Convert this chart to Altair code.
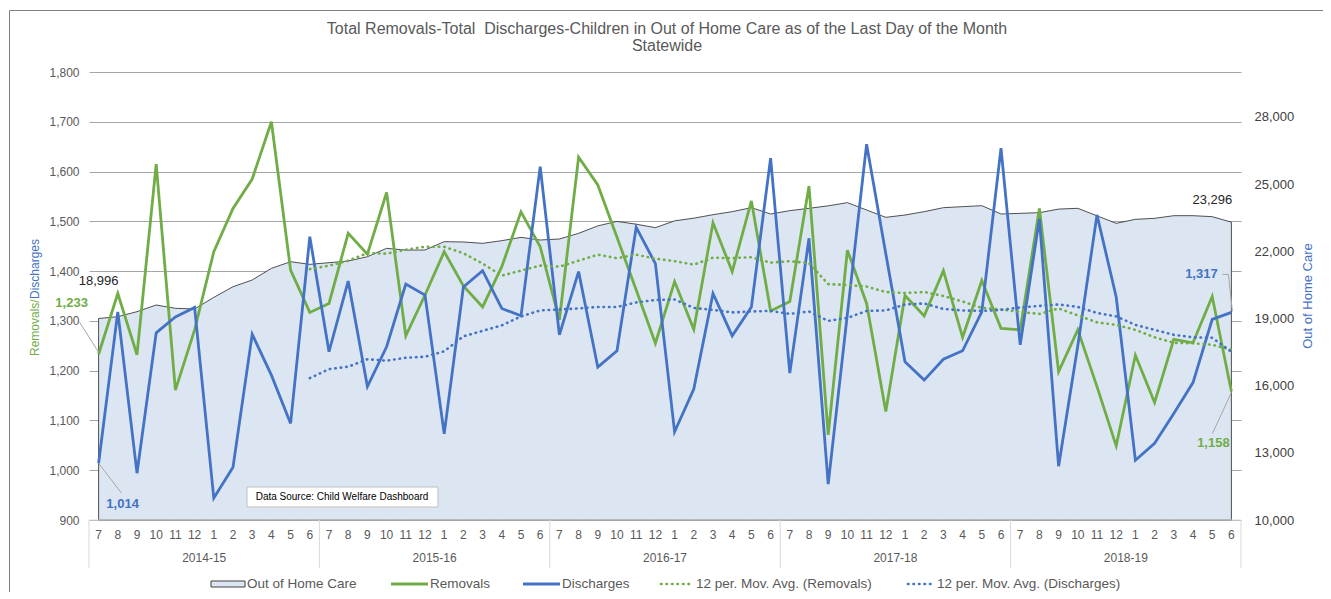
import altair as alt
import pandas as pd

FONT = "Liberation Sans"
GREEN = "#70AD47"
BLUE = "#4472C4"
AREA_FILL = "#DCE6F2"
GREY_TXT = "#595959"

month_labels = ["7", "8", "9", "10", "11", "12", "1", "2", "3", "4", "5", "6"]
fiscal_years = ["2014-15", "2015-16", "2016-17", "2017-18", "2018-19"]

removals = [1233, 1355, 1232, 1615, 1161, 1282, 1439, 1526, 1585, 1700, 1402, 1317,
            1335, 1476, 1434, 1558, 1270, 1352, 1439, 1370, 1328, 1409, 1519, 1449,
            1302, 1629, 1573, 1468, 1362, 1255, 1379, 1283, 1497, 1399, 1541, 1320,
            1339, 1571, 1071, 1442, 1335, 1118, 1351, 1310, 1401, 1267, 1381, 1285,
            1282, 1526, 1198, 1282, 1168, 1049, 1231, 1136, 1263, 1256, 1349, 1158]

discharges = [1014, 1318, 994, 1276, 1308, 1327, 944, 1006, 1273, 1191, 1094, 1469,
              1238, 1380, 1168, 1248, 1374, 1352, 1073, 1368, 1401, 1325, 1310, 1610,
              1272, 1399, 1207, 1240, 1488, 1415, 1077, 1163, 1355, 1270, 1328, 1627,
              1195, 1466, 972, 1314, 1655, 1435, 1218, 1181, 1223, 1240, 1318, 1647,
              1252, 1505, 1008, 1250, 1513, 1348, 1020, 1054, 1114, 1176, 1303, 1317]

out_of_home_care = [18996, 19077, 19300, 19598, 19450, 19420, 19940, 20415, 20714, 21235, 21530, 21413,
                    21487, 21562, 21755, 22128, 22050, 22054, 22426, 22411, 22351, 22470, 22619, 22500,
                    22545, 22798, 23130, 23330, 23205, 23051, 23355, 23475, 23630, 23765, 23943, 23661,
                    23810, 23914, 24025, 24167, 23839, 23512, 23616, 23765, 23943, 23988, 24033, 23661,
                    23690, 23720, 23880, 23914, 23580, 23244, 23423, 23467, 23586, 23586, 23542, 23296]

# 12 per. moving averages, as drawn (start at the 12th month)
ma_removals = [1404, 1411, 1421, 1436, 1435, 1443, 1449, 1449, 1436, 1415, 1391, 1401, 1411,
               1409, 1421, 1433, 1426, 1433, 1425, 1420, 1413, 1427, 1426, 1428, 1417,
               1420, 1416, 1374, 1372, 1369, 1358, 1356, 1358, 1350, 1339, 1326, 1323,
               1318, 1314, 1325, 1311, 1297, 1292, 1282, 1267, 1256, 1255, 1252, 1242]
ma_discharges = [1185, 1203, 1208, 1223, 1220, 1226, 1228, 1239, 1269, 1280, 1291, 1309, 1321,
                 1323, 1325, 1328, 1328, 1337, 1342, 1343, 1326, 1322, 1317, 1319, 1320,
                 1314, 1319, 1300, 1306, 1320, 1321, 1333, 1335, 1324, 1321, 1320, 1322,
                 1327, 1330, 1333, 1328, 1316, 1309, 1292, 1282, 1272, 1267, 1266, 1238]

title_lines = ["Total Removals-Total \u00a0Discharges-Children in Out of Home Care as of the Last Day of the Month",
               "Statewide"]
right_title = "Out of Home Care"
legend_labels = ["Out of Home Care", "Removals", "Discharges",
                 "12 per. Mov. Avg. (Removals)", "12 per. Mov. Avg. (Discharges)"]
source_note = "Data Source: Child Welfare Dashboard"

n = len(removals)
idx = list(range(n))
ma_start = n - len(ma_removals)

df = pd.DataFrame({
    "idx": idx,
    "removals": removals,
    "discharges": discharges,
    "ooh": out_of_home_care,
    "month": [month_labels[i % 12] for i in idx],
})
ma_df = pd.DataFrame({"idx": list(range(ma_start, n)), "ma_rem": ma_removals, "ma_dis": ma_discharges})
year_df = pd.DataFrame({"mid": [k * 12 + 5.5 for k in range(len(fiscal_years))], "year": fiscal_years})
sep_df = pd.DataFrame({"pos": [k * 12 - 0.5 for k in range(len(fiscal_years) + 1)]})
one = pd.DataFrame({"a": [0]})

W, H = 1152, 448

xs = alt.Scale(domain=[-0.5, n - 0.5], nice=False, zero=False)
X = alt.X("idx:Q", scale=xs, axis=None)
ls = alt.Scale(domain=[900, 1800], nice=False, zero=False)
rs = alt.Scale(domain=[10000, 30000], nice=False, zero=False)

left_axis = alt.Axis(values=list(range(900, 1801, 100)), format=",.0f", grid=True, gridColor="#a6a6a6",
                     gridWidth=1, domain=False, ticks=False, labelPadding=10, labelFontSize=12,
                     labelColor=GREY_TXT, labelFont=FONT, title=None, zindex=0)
right_axis = alt.Axis(orient="right", values=list(range(10000, 28001, 3000)), format=",.0f", grid=False,
                      domain=False, ticks=False, labelPadding=13, labelFontSize=13, labelColor="#404040",
                      labelFont=FONT, title=None)

# ---- right scale layer: Out of Home Care area
area = alt.Chart(df).mark_area(fill=AREA_FILL, stroke="#262626", strokeWidth=0.8, opacity=1).encode(
    x=X, y=alt.Y("ooh:Q", scale=rs, axis=right_axis, stack=None), y2=alt.value(H))
ooh_end = pd.DataFrame({"idx": [0, n - 1], "v": [out_of_home_care[0], out_of_home_care[-1]]})
ooh_lab_first = alt.Chart(ooh_end.iloc[[0]]).mark_text(
    font=FONT, fontSize=13, color="#262626", dx=0, dy=-37).encode(
    x=X, y=alt.Y("v:Q", scale=rs, axis=right_axis), text=alt.Text("v:Q", format=",.0f"))
ooh_lab_last = alt.Chart(ooh_end.iloc[[1]]).mark_text(
    font=FONT, fontSize=13, color="#262626", dx=-19, dy=-22).encode(
    x=X, y=alt.Y("v:Q", scale=rs, axis=right_axis), text=alt.Text("v:Q", format=",.0f"))
right_layer = alt.layer(area, ooh_lab_first, ooh_lab_last)

# ---- left scale layer: removals / discharges
def Yl(field):
    return alt.Y(field, scale=ls, axis=left_axis)

rem_line = alt.Chart(df).mark_line(color=GREEN, strokeWidth=2.8).encode(x=X, y=Yl("removals:Q"))
dis_line = alt.Chart(df).mark_line(color=BLUE, strokeWidth=2.8).encode(x=X, y=Yl("discharges:Q"))
ma_rem_line = alt.Chart(ma_df).mark_line(color=GREEN, strokeWidth=2.6, strokeDash=[0.5, 5],
                                         strokeCap="round").encode(x=X, y=Yl("ma_rem:Q"))
ma_dis_line = alt.Chart(ma_df).mark_line(color=BLUE, strokeWidth=2.6, strokeDash=[0.5, 5],
                                         strokeCap="round").encode(x=X, y=Yl("ma_dis:Q"))

def end_label(i, values, color, dx, dy):
    d = pd.DataFrame({"idx": [i], "v": [values[i]]})
    return alt.Chart(d).mark_text(font=FONT, fontSize=13, fontWeight="bold", color=color, dx=dx, dy=dy).encode(
        x=X, y=Yl("v:Q"), text=alt.Text("v:Q", format=",.0f"))

def leader(i, values, xo, yo, x2o, y2o):
    d = pd.DataFrame({"idx": [i], "v": [values[i]]})
    return alt.Chart(d).mark_rule(color="#a6a6a6", strokeWidth=1, xOffset=xo, yOffset=yo,
                                  x2Offset=x2o, y2Offset=y2o).encode(
        x=X, x2="idx:Q", y=Yl("v:Q"), y2="v:Q")

labels = [
    end_label(0, removals, GREEN, -27, -51),
    end_label(0, discharges, BLUE, 24, 41),
    end_label(n - 1, discharges, BLUE, -30, -38),
    end_label(n - 1, removals, GREEN, -18, 51),
    leader(0, removals, 0, -2, -19, -32),
    leader(0, discharges, 0, 0, 23, 30),
    leader(n - 1, discharges, 1, -1, -3, -38),
    leader(n - 1, discharges, -3, -38, -9, -38),
    leader(n - 1, removals, 0, 1, -19, 42),
]
left_layer = alt.layer(rem_line, dis_line, ma_rem_line, ma_dis_line, *labels)

# ---- category axis (months / fiscal years)
base_line = alt.Chart(one).mark_rule(color="#d9d9d9").encode(
    x=alt.value(0), x2=alt.value(W), y=alt.value(H))
seps = alt.Chart(sep_df).mark_rule(color="#d9d9d9").encode(
    x=alt.X("pos:Q", scale=xs, axis=None), y=alt.value(H), y2=alt.value(H + 48))
months = alt.Chart(df).mark_text(font=FONT, fontSize=12, color=GREY_TXT, baseline="middle").encode(
    x=X, y=alt.value(H + 15), text="month:N")
years = alt.Chart(year_df).mark_text(font=FONT, fontSize=12, color=GREY_TXT, baseline="middle").encode(
    x=alt.X("mid:Q", scale=xs, axis=None), y=alt.value(H + 38), text="year:N")

# ---- chart title (two lines)
t1 = alt.Chart(one).mark_text(font=FONT, fontSize=16, color=GREY_TXT, baseline="middle").encode(
    x=alt.value(W / 2 + 2), y=alt.value(-43), text=alt.value(title_lines[0]))
t2 = alt.Chart(one).mark_text(font=FONT, fontSize=16, color=GREY_TXT, baseline="middle").encode(
    x=alt.value(W / 2 + 2), y=alt.value(-26), text=alt.value(title_lines[1]))

# ---- axis titles
lt1 = alt.Chart(one).mark_text(font=FONT, fontSize=12, color=GREEN, angle=270, align="left",
                               baseline="middle").encode(x=alt.value(-54), y=alt.value(284),
                                                         text=alt.value("Removals/"))
lt2 = alt.Chart(one).mark_text(font=FONT, fontSize=12, color=BLUE, angle=270, align="left",
                               baseline="middle").encode(x=alt.value(-54), y=alt.value(227),
                                                         text=alt.value("Discharges"))
rt = alt.Chart(one).mark_text(font=FONT, fontSize=13, color=BLUE, angle=270, align="center",
                              baseline="middle").encode(x=alt.value(1219), y=alt.value(H / 2),
                                                        text=alt.value(right_title))

# ---- data source note
src_box = alt.Chart(one).mark_rect(fill="white", stroke="#bfbfbf", strokeWidth=1).encode(
    x=alt.value(158), x2=alt.value(349), y=alt.value(415), y2=alt.value(435))
src_txt = alt.Chart(one).mark_text(font=FONT, fontSize=10, color="#000000", baseline="middle").encode(
    x=alt.value(253), y=alt.value(425), text=alt.value(source_note))

# ---- legend
LY = 512
leg = [
    alt.Chart(one).mark_rect(fill=AREA_FILL, stroke="#404040", strokeWidth=1).encode(
        x=alt.value(122), x2=alt.value(156), y=alt.value(LY - 3), y2=alt.value(LY + 3)),
    alt.Chart(one).mark_rule(color=GREEN, strokeWidth=2.8).encode(
        x=alt.value(302), x2=alt.value(339), y=alt.value(LY)),
    alt.Chart(one).mark_rule(color=BLUE, strokeWidth=2.8).encode(
        x=alt.value(434), x2=alt.value(471), y=alt.value(LY)),
    alt.Chart(one).mark_rule(color=GREEN, strokeWidth=2.6, strokeDash=[0.5, 5], strokeCap="round").encode(
        x=alt.value(572), x2=alt.value(603), y=alt.value(LY)),
    alt.Chart(one).mark_rule(color=BLUE, strokeWidth=2.6, strokeDash=[0.5, 5], strokeCap="round").encode(
        x=alt.value(819), x2=alt.value(846), y=alt.value(LY)),
]
for lx, txt in zip([158, 341, 473, 607, 848], legend_labels):
    leg.append(alt.Chart(one).mark_text(font=FONT, fontSize=13.5, color=GREY_TXT, align="left",
                                        baseline="middle").encode(
        x=alt.value(lx), y=alt.value(LY), text=alt.value(txt)))

# ---- outer chart frame
frame = alt.Chart(one).mark_rect(fill="transparent", stroke="#7f7f7f", strokeWidth=1).encode(
    x=alt.value(-79.5), x2=alt.value(1400), y=alt.value(-61.5), y2=alt.value(700))

chart = alt.layer(
    right_layer, left_layer, base_line, seps, months, years, t1, t2, lt1, lt2, rt,
    src_box, src_txt, *leg, frame
).resolve_scale(y="independent").properties(
    width=W, height=H,
    padding={"left": 81, "top": 64, "right": 82, "bottom": 72},
    autosize=alt.AutoSizeParams(type="none"),
    background="white",
).configure_view(stroke=None)

chart.save("out.html", embed_options={"renderer": "svg", "actions": False})
